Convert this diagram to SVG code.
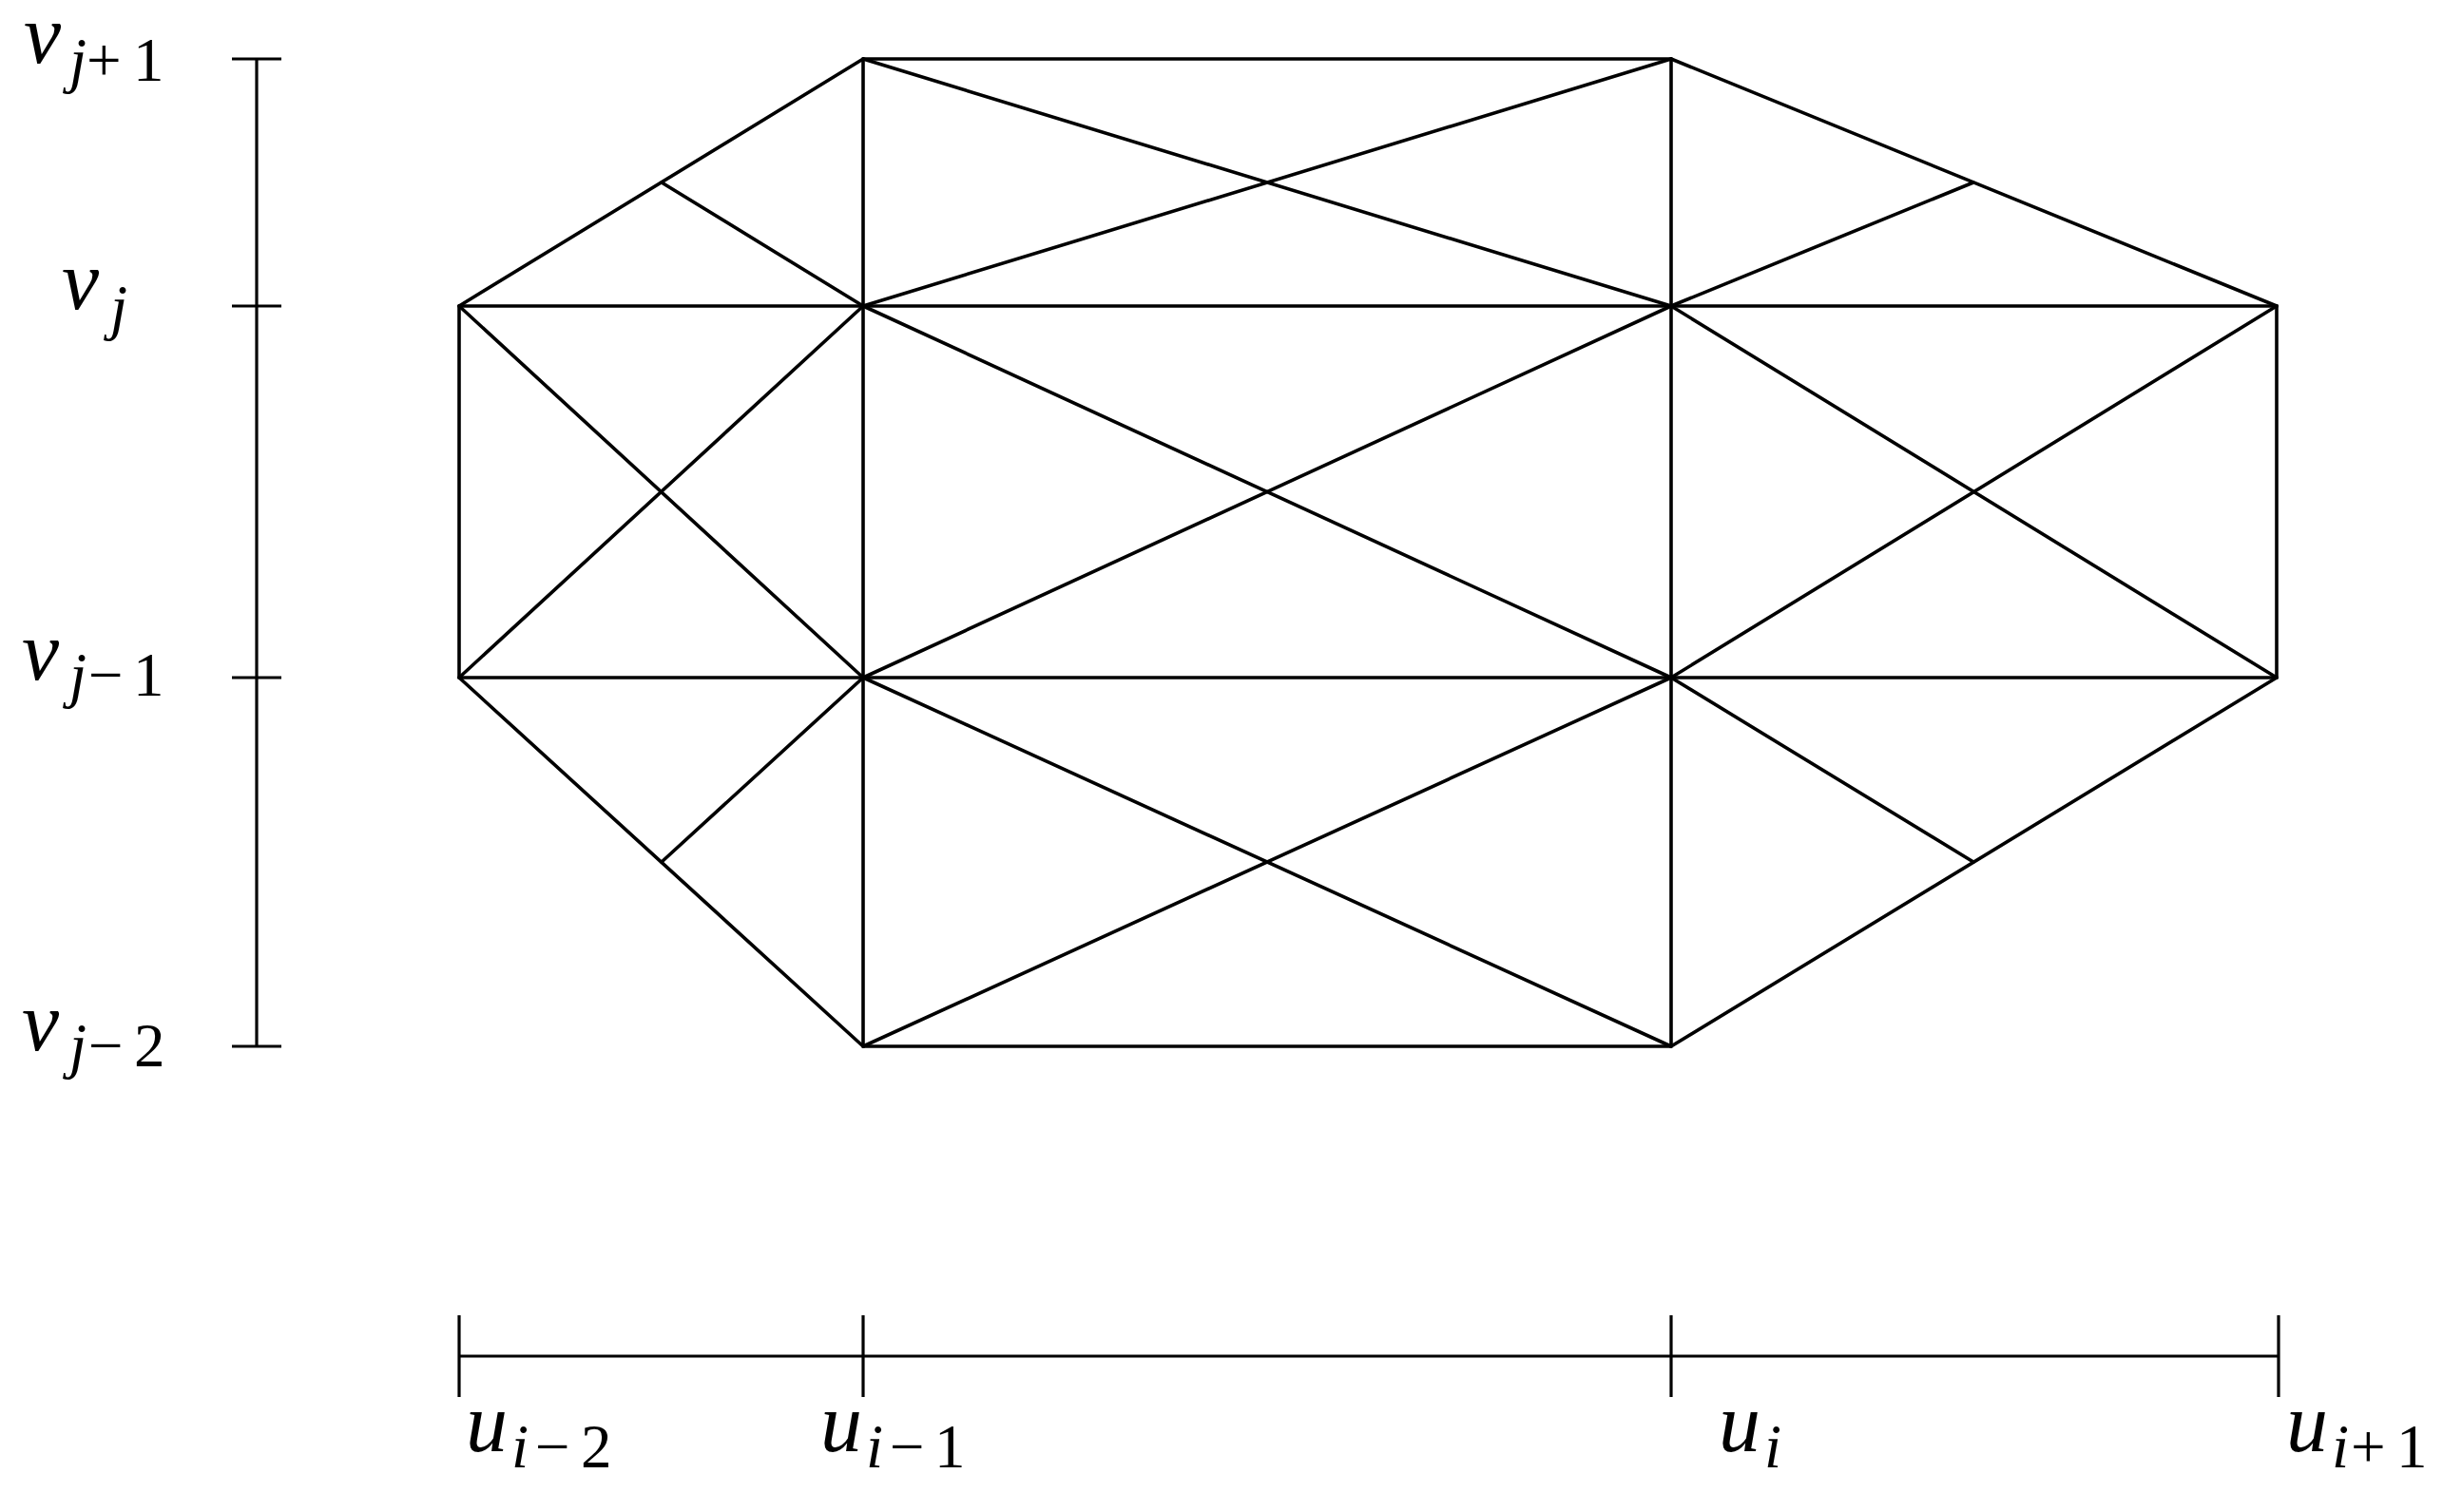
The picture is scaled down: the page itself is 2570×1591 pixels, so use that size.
<svg xmlns="http://www.w3.org/2000/svg" width="2570" height="1591" viewBox="0 0 2570 1591">
<style>
.e{stroke:#000;stroke-width:3.6;fill:none;stroke-linecap:round}
.ax{stroke:#000;stroke-width:3.2;fill:none}
.lbl{font-family:'Liberation Serif','DejaVu Serif',serif;fill:#000}
.m{font-size:88px;font-style:italic}
.si{font-size:65px;font-style:italic}
.sr{font-size:65px;font-style:normal}
</style>
<rect width="2570" height="1591" fill="#fff"/>
<g id="v-axis">
<line class="ax" x1="270" y1="62" x2="270" y2="1101"/>
<line class="ax" x1="244" y1="62" x2="296" y2="62"/>
<line class="ax" x1="244" y1="322" x2="296" y2="322"/>
<line class="ax" x1="244" y1="713" x2="296" y2="713"/>
<line class="ax" x1="244" y1="1101" x2="296" y2="1101"/>
</g>
<g id="u-axis">
<line class="ax" x1="483" y1="1427" x2="2397" y2="1427"/>
<line class="ax" x1="483" y1="1384" x2="483" y2="1470"/>
<line class="ax" x1="908" y1="1384" x2="908" y2="1470"/>
<line class="ax" x1="1758" y1="1384" x2="1758" y2="1470"/>
<line class="ax" x1="2397" y1="1384" x2="2397" y2="1470"/>
</g>
<g id="v-labels">
<text class="lbl"><tspan class="m" x="25" y="66">v</tspan><tspan class="si" x="73" y="85">j</tspan><tspan class="sr" x="91" y="85">+</tspan><tspan class="sr" x="140" y="85">1</tspan></text>
<text class="lbl"><tspan class="m" x="65" y="325">v</tspan><tspan class="si" x="116" y="345">j</tspan></text>
<text class="lbl"><tspan class="m" x="23" y="715">v</tspan><tspan class="si" x="73" y="732">j</tspan><tspan class="sr" x="93" y="732">−</tspan><tspan class="sr" x="140" y="732">1</tspan></text>
<text class="lbl"><tspan class="m" x="23" y="1105">v</tspan><tspan class="si" x="73" y="1122">j</tspan><tspan class="sr" x="93" y="1122">−</tspan><tspan class="sr" x="141" y="1122">2</tspan></text>
</g>
<g id="u-labels">
<text class="lbl"><tspan class="m" x="490" y="1527">u</tspan><tspan class="si" x="538" y="1544">i</tspan><tspan class="sr" x="563" y="1544">−</tspan><tspan class="sr" x="611" y="1544">2</tspan></text>
<text class="lbl"><tspan class="m" x="863" y="1527">u</tspan><tspan class="si" x="911" y="1544">i</tspan><tspan class="sr" x="936" y="1544">−</tspan><tspan class="sr" x="983" y="1544">1</tspan></text>
<text class="lbl"><tspan class="m" x="1808" y="1527">u</tspan><tspan class="si" x="1856" y="1544">i</tspan></text>
<text class="lbl"><tspan class="m" x="2405" y="1527">u</tspan><tspan class="si" x="2453" y="1544">i</tspan><tspan class="sr" x="2473" y="1544">+</tspan><tspan class="sr" x="2521" y="1544">1</tspan></text>
</g>
<g id="connectors">
<line class="e" x1="908" y1="62" x2="1758" y2="62"/>
<line class="e" x1="483" y1="322" x2="2395" y2="322"/>
<line class="e" x1="483" y1="713" x2="2395" y2="713"/>
<line class="e" x1="908" y1="1101" x2="1758" y2="1101"/>
<line class="e" x1="483" y1="322" x2="483" y2="713"/>
<line class="e" x1="908" y1="62" x2="908" y2="1101"/>
<line class="e" x1="1758" y1="62" x2="1758" y2="1101"/>
<line class="e" x1="2395" y1="322" x2="2395" y2="713"/>
<line class="e" x1="483" y1="322" x2="908" y2="62"/>
<line class="e" x1="1758" y1="62" x2="2395" y2="322"/>
<line class="e" x1="483" y1="713" x2="908" y2="1101"/>
<line class="e" x1="2395" y1="713" x2="1758" y2="1101"/>
<line class="e" x1="696" y1="192" x2="908" y2="322"/>
<line class="e" x1="2076" y1="192" x2="1758" y2="322"/>
<line class="e" x1="696" y1="907" x2="908" y2="713"/>
<line class="e" x1="2076" y1="907" x2="1758" y2="713"/>
<line class="e" x1="908" y1="62" x2="1758" y2="322"/>
<line class="e" x1="1758" y1="62" x2="908" y2="322"/>
<line class="e" x1="908" y1="322" x2="1758" y2="713"/>
<line class="e" x1="1758" y1="322" x2="908" y2="713"/>
<line class="e" x1="908" y1="713" x2="1758" y2="1101"/>
<line class="e" x1="1758" y1="713" x2="908" y2="1101"/>
<line class="e" x1="483" y1="322" x2="908" y2="713"/>
<line class="e" x1="908" y1="322" x2="483" y2="713"/>
<line class="e" x1="1758" y1="322" x2="2395" y2="713"/>
<line class="e" x1="2395" y1="322" x2="1758" y2="713"/>
</g>
</svg>
